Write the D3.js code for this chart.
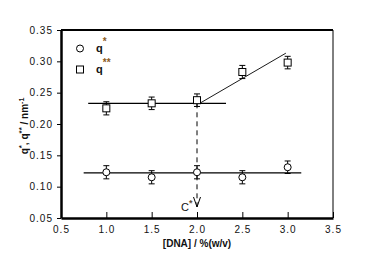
<!DOCTYPE html>
<html><head><meta charset="utf-8">
<script src="https://cdn.jsdelivr.net/npm/d3@7"></script>
<style>body{margin:0;background:#fff}svg{display:block}text{font-family:"Liberation Sans",Arial,sans-serif}</style>
</head><body><svg id="c" width="373" height="272"></svg>
<script>
const dna = [1.0, 1.5, 2.0, 2.5, 3.0];
const qStar = [0.123, 0.115, 0.123, 0.115, 0.131];
const qStarErr = [0.0105, 0.0105, 0.0105, 0.0105, 0.01];
const qStar2 = [0.225, 0.233, 0.238, 0.283, 0.298];
const qStar2Err = [0.0105, 0.0100, 0.0100, 0.0105, 0.0100];
const lineQStar = [[0.75, 0.122], [3.15, 0.122]];
const lineQ2Flat = [[0.8, 0.233], [2.32, 0.233]];
const lineQ2Slope = [[2.03, 0.233], [2.98, 0.313]];
const cStarX = 2.0;
const xTicks = [0.5, 1.0, 1.5, 2.0, 2.5, 3.0, 3.5];
const yTicks = [0.05, 0.10, 0.15, 0.20, 0.25, 0.30, 0.35];

const svg = d3.select("#c");
const x = d3.scaleLinear().domain([0.5, 3.5]).range([61, 333]);
const y = d3.scaleLinear().domain([0.05, 0.35]).range([218, 30]);

// frame
svg.append("line").attr("x1", 61).attr("x2", 333).attr("y1", 30).attr("y2", 30).attr("stroke", "#000").attr("stroke-width", 2);
svg.append("line").attr("x1", 333).attr("x2", 333).attr("y1", 30).attr("y2", 218).attr("stroke", "#000").attr("stroke-width", 1);

const xAxis = d3.axisBottom(x).tickValues(xTicks).tickFormat(d3.format(".1f")).tickSizeInner(-6).tickSizeOuter(0).tickPadding(8);
const gx = svg.append("g").attr("transform", "translate(0,218)").call(xAxis);
gx.select(".domain").attr("stroke-width", 2.5);
gx.selectAll(".tick line").attr("stroke-width", 1);
gx.selectAll("text").attr("font-size", 10).attr("letter-spacing", 1).attr("fill", "#111");

const yAxis = d3.axisLeft(y).tickValues(yTicks).tickFormat(d3.format(".2f")).tickSizeInner(4).tickSizeOuter(0).tickPadding(4);
const gy = svg.append("g").attr("transform", "translate(61,0)").call(yAxis);
gy.select(".domain").attr("stroke-width", 2.5);
gy.selectAll("text").attr("font-size", 10).attr("letter-spacing", 1).attr("fill", "#111");

// fit lines
const ln = d3.line().x(d => x(d[0])).y(d => y(d[1]));
svg.append("path").attr("d", ln(lineQStar)).attr("stroke", "#000").attr("stroke-width", 1.2).attr("fill", "none");
svg.append("path").attr("d", ln(lineQ2Flat)).attr("stroke", "#000").attr("stroke-width", 1.2).attr("fill", "none");
svg.append("path").attr("d", ln(lineQ2Slope)).attr("stroke", "#000").attr("stroke-width", 0.9).attr("fill", "none");

// C* dashed arrow
const arrowTop = y(0.233), arrowBot = 207;
svg.append("line").attr("x1", x(cStarX)).attr("x2", x(cStarX)).attr("y1", arrowTop).attr("y2", arrowBot)
  .attr("stroke", "#000").attr("stroke-width", 1).attr("stroke-dasharray", "5,4");
svg.append("path").attr("d", `M${x(cStarX)-3.5},${arrowBot-10}L${x(cStarX)},${arrowBot}L${x(cStarX)+3.5},${arrowBot-10}`)
  .attr("stroke", "#000").attr("fill", "none").attr("stroke-width", 1);
const ct = svg.append("text").attr("x", x(cStarX) - 16).attr("y", 211).attr("font-size", 11).attr("fill", "#111");
ct.append("tspan").text("C");
ct.append("tspan").attr("dy", -5).attr("font-size", 9).attr("font-weight", "bold").attr("fill", "#6a5030").text("*");

// error bars
function errBars(vals, errs) {
  const g = svg.append("g").attr("stroke", "#000").attr("stroke-width", 1);
  dna.forEach((d, i) => {
    const cx = x(d), y1 = y(vals[i] + errs[i]), y2 = y(vals[i] - errs[i]);
    g.append("line").attr("x1", cx).attr("x2", cx).attr("y1", y1).attr("y2", y2);
    g.append("line").attr("x1", cx - 3).attr("x2", cx + 3).attr("y1", y1).attr("y2", y1);
    g.append("line").attr("x1", cx - 3).attr("x2", cx + 3).attr("y1", y2).attr("y2", y2);
  });
}
errBars(qStar, qStarErr);
errBars(qStar2, qStar2Err);

svg.append("g").selectAll("circle").data(dna).join("circle")
  .attr("cx", d => x(d)).attr("cy", (d, i) => y(qStar[i])).attr("r", 3.5)
  .attr("fill", "#fff").attr("stroke", "#000").attr("stroke-width", 1);
svg.append("g").selectAll("rect").data(dna).join("rect")
  .attr("x", d => x(d) - 3.5).attr("y", (d, i) => y(qStar2[i]) - 3.5).attr("width", 7).attr("height", 7)
  .attr("fill", "#fff").attr("stroke", "#000").attr("stroke-width", 1);

// legend
svg.append("circle").attr("cx", 80).attr("cy", 48.5).attr("r", 3.5).attr("fill", "#fff").attr("stroke", "#000");
svg.append("rect").attr("x", 76.5).attr("y", 66).attr("width", 7).attr("height", 7).attr("fill", "#fff").attr("stroke", "#000");
const l1 = svg.append("text").attr("x", 96).attr("y", 52).attr("font-size", 11).attr("font-weight", "bold").attr("fill", "#111");
l1.append("tspan").text("q");
l1.append("tspan").attr("dy", -7).attr("font-size", 10).attr("fill", "#8a5a20").text("*");
const l2 = svg.append("text").attr("x", 96).attr("y", 73).attr("font-size", 11).attr("font-weight", "bold").attr("fill", "#111");
l2.append("tspan").text("q");
l2.append("tspan").attr("dy", -7).attr("font-size", 10).attr("fill", "#8a5a20").text("**");

// axis titles
svg.append("text").attr("x", 197).attr("y", 247).attr("text-anchor", "middle").attr("font-size", 10).attr("font-weight", "bold").attr("fill", "#111")
  .text("[DNA] / %(w/v)");
const yt = svg.append("text").attr("transform", "translate(28,126) rotate(-90)").attr("text-anchor", "middle")
  .attr("font-size", 10).attr("font-weight", "bold").attr("fill", "#111");
yt.append("tspan").text("q");
yt.append("tspan").attr("dy", -4).attr("font-size", 8).text("*");
yt.append("tspan").attr("dy", 4).text(", q");
yt.append("tspan").attr("dy", -4).attr("font-size", 8).text("**");
yt.append("tspan").attr("dy", 4).text(" / nm");
yt.append("tspan").attr("dy", -4).attr("font-size", 7).text("-1");
</script></body></html>
